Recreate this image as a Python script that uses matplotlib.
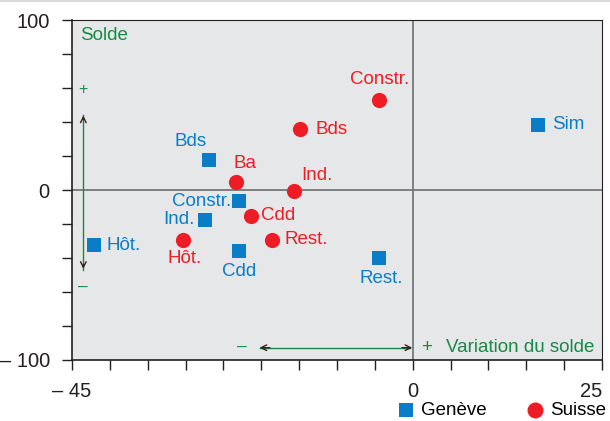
import matplotlib.pyplot as plt
from matplotlib.lines import Line2D

plt.rcParams['font.family'] = ['Liberation Sans', 'DejaVu Sans']

# Genève (blue squares)
geneve_labels = ['Sim', 'Bds', 'Constr.', 'Ind.', 'Hôt.', 'Cdd', 'Rest.']
geneve_x = [16.6, -26.9, -22.9, -27.5, -42.1, -22.9, -4.4]
geneve_y = [38.4, 17.8, -6.7, -17.5, -32.6, -35.7, -40.0]

# Suisse (red circles)
suisse_labels = ['Constr.', 'Bds', 'Ba', 'Ind.', 'Cdd', 'Hôt.', 'Rest.']
suisse_x = [-4.4, -14.9, -23.4, -15.7, -21.3, -30.4, -18.6]
suisse_y = [53.1, 35.9, 4.9, -0.4, -15.1, -29.2, -29.2]

xticks = list(range(-45, 26, 5))
yticks = list(range(-100, 101, 20))
xtick_labels = {-45: '\u2013 45', 0: '0', 25: '25'}
ytick_labels = {-100: '\u2013 100', 0: '0', 100: '100'}

blue = '#0a7dc8'
red = '#ee1c25'
green = '#168a45'
bg = '#e6e7e8'
fs = 13.5

# label offsets in pixels (dx, dy, ha)
geneve_off = [(14, 0, 'left'), (-2, 18, 'right'), (-8, 0, 'right'), (-10, 0, 'right'),
              (13, 0, 'left'), (0, -21, 'center'), (2, -20, 'center')]
suisse_off = [(0, 20, 'center'), (16, 0, 'left'), (9, 18, 'center'), (7, 15, 'left'),
              (10, 0, 'left'), (2, -19, 'center'), (13, 0, 'left')]

fig = plt.figure(figsize=(6.1, 4.21), dpi=100)
ax = fig.add_axes([0.118, 0.145, 0.869, 0.807])
ax.set_facecolor(bg)
ax.set_xlim(-45, 25)
ax.set_ylim(-100, 100)

ax.axhline(0, color='#6d6e70', lw=1.2, zorder=1)
ax.axvline(0, color='#6d6e70', lw=1.2, zorder=1)

ax.scatter(geneve_x, geneve_y, marker='s', s=95, color=blue, lw=0, zorder=3, label='Genève')
ax.scatter(suisse_x, suisse_y, marker='o', s=120, color=red, lw=0, zorder=3, label='Suisse')

px2pt = 72 / 100
for lab, x, y, (dx, dy, ha) in zip(geneve_labels, geneve_x, geneve_y, geneve_off):
    ax.annotate(lab, (x, y), xytext=(dx * px2pt, dy * px2pt), textcoords='offset points',
                ha=ha, va='center', color=blue, fontsize=fs)
for lab, x, y, (dx, dy, ha) in zip(suisse_labels, suisse_x, suisse_y, suisse_off):
    ax.annotate(lab, (x, y), xytext=(dx * px2pt, dy * px2pt), textcoords='offset points',
                ha=ha, va='center', color=red, fontsize=fs)

# guide arrows
ax.plot([-43.5, -43.5], [44, -47], color=green, lw=1, zorder=2)
ax.annotate('', xy=(-43.5, 45.5), xytext=(-43.5, 40),
            arrowprops=dict(arrowstyle='->', color='#3b1e1e', lw=1))
ax.annotate('', xy=(-43.5, -48), xytext=(-43.5, -42),
            arrowprops=dict(arrowstyle='->', color='#3b1e1e', lw=1))
ax.text(-43.5, 59, '+', color=green, fontsize=fs - 2, ha='center', va='center')
ax.text(-43.5, -57.5, '\u2013', color=green, fontsize=fs - 1, ha='center', va='center')
ax.text(-43.9, 91, 'Solde', color=green, fontsize=fs, ha='left', va='center')

ax.plot([-20.2, -0.3], [-92.8, -92.8], color=green, lw=1, zorder=2)
ax.annotate('', xy=(-20.6, -92.8), xytext=(-18.5, -92.8),
            arrowprops=dict(arrowstyle='->', color='#3b1e1e', lw=1))
ax.annotate('', xy=(0.3, -92.8), xytext=(-1.8, -92.8),
            arrowprops=dict(arrowstyle='->', color='#3b1e1e', lw=1))
ax.text(-22.6, -92.5, '\u2013', color=green, fontsize=fs - 1, ha='center', va='center')
ax.text(1.1, -92.5, '+', color=green, fontsize=fs, ha='left', va='center')
ax.text(4.4, -92.5, 'Variation du solde', color=green, fontsize=fs, ha='left', va='center')

ax.set_xticks(xticks)
ax.set_xticklabels([xtick_labels.get(t, '') for t in xticks])
ax.set_yticks(yticks)
ax.set_yticklabels([ytick_labels.get(t, '') for t in yticks])
ax.tick_params(direction='out', length=7, width=1, colors='#231f20', labelsize=fs + 1, pad=9)
for s in ['left', 'bottom']:
    ax.spines[s].set_color('#231f20')
    ax.spines[s].set_linewidth(1.2)
for s in ['top', 'right']:
    ax.spines[s].set_color('#231f20')
    ax.spines[s].set_linewidth(0.8)
ax.get_xticklabels()[-1].set_horizontalalignment('right')
ax.get_xticklabels()[-1].set_x(25.8)

ax.legend(loc='upper right', bbox_to_anchor=(1.022, -0.1), ncol=2, frameon=False,
          fontsize=fs, handletextpad=0.2, columnspacing=2.0, borderaxespad=0,
          handlelength=1.2, markerscale=1.05)

fig.add_artist(Line2D([0, 1], [0.997, 0.997], color='#d9d9d9', lw=1.5))

fig.savefig('out.png', dpi=100)
